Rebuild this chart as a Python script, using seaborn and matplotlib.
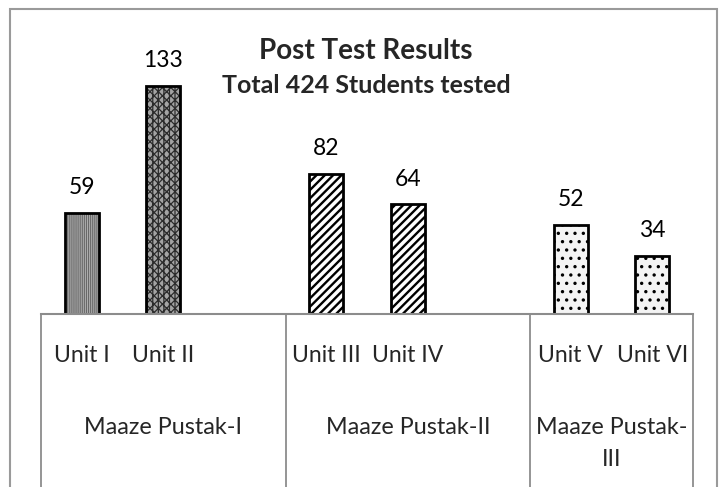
import matplotlib
matplotlib.use("Agg")
import matplotlib.pyplot as plt
import matplotlib.transforms as mtransforms
from matplotlib.patches import Rectangle
import seaborn as sns
import pandas as pd

# ---- data ----
units = ["Unit I", "Unit II", "Unit III", "Unit IV", "Unit V", "Unit VI"]
values = [59, 133, 82, 64, 52, 34]
groups = ["Maaze Pustak-I", "Maaze Pustak-II", "Maaze Pustak-\nIII"]
title = "Post Test Results"
subtitle = "Total 424 Students tested"

# category order with empty slots between groups
order = ["Unit I", "Unit II", "_g1", "Unit III", "Unit IV", "_g2", "Unit V", "Unit VI"]
group_bounds = [-0.5, 2.5, 5.5, 7.5]

# styles per unit: (face, hatch, hatch colour, hatch lw)
styles = {
    "Unit I": ("#b0b0b0", "||||||||", "#686868", 0.8),
    "Unit II": ("#a4a4a4", "xxxx|||", "#2c2c2c", 0.9),
    "Unit III": ("#ffffff", "////", "#000000", 1.7),
    "Unit IV": ("#ffffff", "////", "#000000", 1.7),
    "Unit V": ("#f4f4f4", "..", "#000000", 1.2),
    "Unit VI": ("#f4f4f4", "..", "#000000", 1.2),
}

sns.set_theme(style="white")
plt.rcParams["font.family"] = ["Lato", "DejaVu Sans"]

W, H = 721, 487
fig = plt.figure(figsize=(W / 100, H / 100), dpi=100)
ax = fig.add_axes([41 / W, 1 - 314 / H, (693 - 41) / W, (314 - 40) / H])

df = pd.DataFrame({"unit": units, "value": values})
sns.barplot(data=df, x="unit", y="value", order=order, width=0.42,
            color="white", ax=ax, saturation=1)

ax.set_xlim(-0.5, 7.5)
ax.set_ylim(0, 160)
ax.set_xticks([])
ax.set_yticks([])
ax.set_xlabel("")
ax.set_ylabel("")
for s in ["top", "left", "right"]:
    ax.spines[s].set_visible(False)
ax.spines["bottom"].set_color("#8c8c8c")
ax.spines["bottom"].set_linewidth(1.5)

# style bars
for p in list(ax.patches):
    cx = p.get_x() + p.get_width() / 2
    idx = int(round(cx))
    name = order[idx]
    h = p.get_height()
    if name not in styles or h != h or h == 0:
        continue
    face, hatch, hcol, hlw = styles[name]
    p.set_facecolor(face)
    p.set_hatch(hatch)
    p.set_edgecolor(hcol)
    p.set_linewidth(0)
    if hasattr(p, "set_hatch_linewidth"):
        p.set_hatch_linewidth(hlw)
    outline = Rectangle((p.get_x(), p.get_y()), p.get_width(), h,
                        fill=False, edgecolor="black", linewidth=2.0, zorder=p.get_zorder() + 1)
    ax.add_patch(outline)
    ax.annotate(f"{int(round(h))}", (cx, h),
                xytext=(0, 13.5), textcoords="offset points", ha="center", va="baseline",
                fontsize=16.5, color="black")

# category box lines
trans = mtransforms.blended_transform_factory(ax.transData, fig.transFigure)
for b in group_bounds:
    ax.plot([b, b], [0, 1 - 314 / H], transform=trans, color="#8c8c8c",
            linewidth=1.3, clip_on=False)

# unit labels
for u in units:
    ax.text(order.index(u), 1 - 362 / H, u, transform=trans, ha="center",
            va="baseline", fontsize=16.5)

# group labels (one text per line)
for g, name in enumerate(groups):
    cx = (group_bounds[g] + group_bounds[g + 1]) / 2
    for k, line in enumerate(name.split("\n")):
        ax.text(cx, 1 - (434 + 32 * k) / H, line, transform=trans, ha="center",
                va="baseline", fontsize=16.8)

# titles
fig.text(366 / W, 1 - 59 / H, title, ha="center", va="baseline", fontsize=20, fontweight="bold")
fig.text(366 / W, 1 - 93 / H, subtitle, ha="center", va="baseline", fontsize=18, fontweight="bold")

# outer chart frame
frame = Rectangle((10 / W, -0.05), (717 - 10) / W, 1 - 9 / H + 0.05, transform=fig.transFigure,
                  fill=False, edgecolor="#9a9a9a", linewidth=1.5)
fig.patches.append(frame)

fig.savefig("out.png", dpi=100)
